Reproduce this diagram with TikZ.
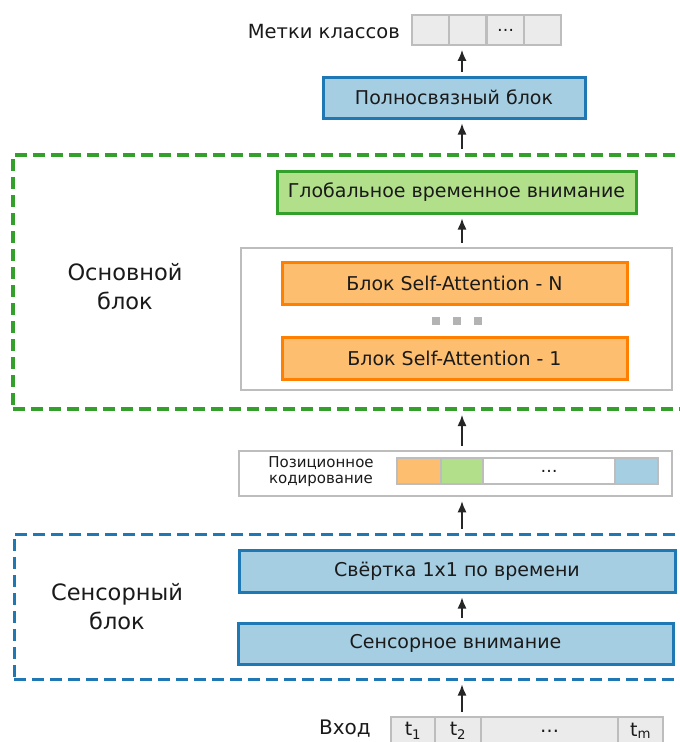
\documentclass[tikz,border=0pt]{standalone}
\usepackage{fontspec}
\setmainfont{DejaVu Sans}
\usetikzlibrary{arrows.meta, positioning}

\definecolor{lblue}{HTML}{A6CEE3}
\definecolor{dblue}{HTML}{1F78B4}
\definecolor{lgreen}{HTML}{B2DF8A}
\definecolor{dgreen}{HTML}{33A02C}
\definecolor{lorange}{HTML}{FDBF6F}
\definecolor{dorange}{HTML}{FF7F00}
\definecolor{cellgray}{HTML}{EBEBEB}
\definecolor{linegray}{HTML}{BDBDBD}
\definecolor{dotgray}{HTML}{B3B3B3}
\definecolor{txt}{HTML}{1A1A1A}

\tikzset{
    blk/.style={draw, line width=3pt, minimum height=41pt, inner sep=0pt, text=txt,
        font=\fontsize{19}{23}\selectfont},
    bluebox/.style={blk, draw=dblue, fill=lblue},
    greenbox/.style={blk, draw=dgreen, fill=lgreen},
    orangebox/.style={blk, draw=dorange, fill=lorange},
    graybox/.style={draw=linegray, line width=2.5pt, fill=white, inner sep=0pt},
    cell/.style={draw=linegray, line width=1.8pt, fill=cellgray, inner sep=0pt, text=txt},
    group/.style={dashed, inner sep=0pt, dash pattern=on 12pt off 6pt},
    lbl/.style={align=center, text=txt, inner sep=0pt, font=\fontsize{22.5}{29}\selectfont},
    link/.style={-{Latex[length=11pt, width=9pt]}, line width=1.4pt, draw=black!85,
        shorten <=4pt, shorten >=4pt}
}

\begin{document}
\begin{tikzpicture}[x=1pt, y=-1pt]
    \path[use as bounding box, fill=white] (0,0) rectangle (680,742);
    \coordinate (spine) at (462,0);

    % class labels
    \foreach \i/\x/\t in {1/430.5/{}, 2/467.5/{}, 3/505.5/{\dots}, 4/542.5/{}} {
        \node[cell, minimum width=37pt, minimum height=30pt, font=\fontsize{17}{19}\selectfont] (c\i) at (\x,30) {\t};
    }
    \node[anchor=east, text=txt, inner sep=0pt, font=\fontsize{19.5}{23}\selectfont] (clslbl) at (400,32) {Метки классов};

    \node[bluebox, minimum width=262pt] (fc) at (454,97.5) {Полносвязный блок};

    % main block
    \node[group, draw=dgreen, line width=4pt, minimum width=690pt, minimum height=254pt] (main) at (358,282) {};
    \node[lbl] (mainlbl) at (125,287) {Основной\\блок};
    \node[greenbox, minimum width=359pt, minimum height=42pt] (glob) at (456.5,192) {Глобальное временное внимание};
    \node[graybox, minimum width=431pt, minimum height=142pt] (sabox) at (456.5,319) {};
    \node[orangebox, minimum width=345pt, minimum height=42pt] (saN) at (454.5,283) {Блок Self-Attention - N};
    \node[orangebox, minimum width=345pt, minimum height=42pt] (sa1) at (454.5,358) {Блок Self-Attention - 1};
    \foreach \x in {436,457,478} {
        \fill[dotgray] (\x-4,317) rectangle ++(8,8);
    }

    % positional encoding
    \node[graybox, minimum width=433pt, minimum height=45pt] (pos) at (455.5,473.5) {};
    \node[lbl, font=\fontsize{15}{16}\selectfont] (poslbl) at (321,472) {Позиционное\\кодирование};
    \foreach \i/\x/\w/\c/\t in {1/419/44/lorange/{}, 2/462/42/lgreen/{}, 3/549/132/white/{\dots}, 4/636.5/43/lblue/{}} {
        \node[cell, fill=\c, minimum width=\w pt, minimum height=26pt, font=\fontsize{17}{19}\selectfont] (p\i) at (\x,471) {\t};
    }

    % sensor block
    \node[group, draw=dblue, line width=3pt, minimum width=690pt, minimum height=145pt] (sensor) at (359,606.5) {};
    \node[lbl] (sensorlbl) at (117,607) {Сенсорный\\блок};
    \node[bluebox, minimum width=436pt, minimum height=42pt] (conv) at (457,571) {Свёртка 1x1 по времени};
    \node[bluebox, minimum width=435pt] (satt) at (455.5,643.5) {Сенсорное внимание};

    % input
    \node[anchor=east, text=txt, inner sep=0pt, font=\fontsize{20}{24}\selectfont] (inlbl) at (371,729) {Вход};
    \foreach \i/\x/\w/\t in {1/413/44/{t\textsubscript{1}}, 2/458/46/{t\textsubscript{2}}, 3/549.5/137/{\dots}, 4/640.5/45/{t\textsubscript{m}}} {
        \node[cell, minimum width=\w pt, minimum height=28pt, font=\fontsize{19}{22}\selectfont] (x\i) at (\x,731) {\t};
    }

    % connectors
    \draw[link] (fc.north -| spine) -- (c2.south -| spine);
    \draw[link] (main.north -| spine) -- (fc.south -| spine);
    \draw[link] (sabox.north -| spine) -- (glob.south -| spine);
    \draw[link] (pos.north -| spine) -- (main.south -| spine);
    \draw[link] (sensor.north -| spine) -- (pos.south -| spine);
    \draw[link] (satt.north -| spine) -- (conv.south -| spine);
    \draw[link] (x2.north -| spine) -- (sensor.south -| spine);
\end{tikzpicture}
\end{document}
